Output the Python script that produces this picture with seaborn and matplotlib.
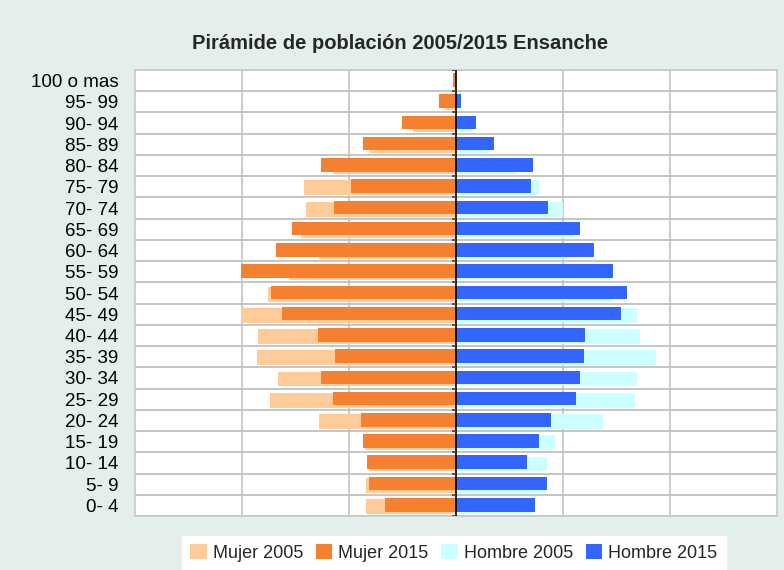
import numpy as np
import matplotlib
matplotlib.use('Agg')
import matplotlib.pyplot as plt
import seaborn as sns
from matplotlib.patches import Patch

# Grupos de edad (de arriba a abajo) y porcentajes
grupos = ['100 o mas', '95- 99', '90- 94', '85- 89', '80- 84', '75- 79', '70- 74',
          '65- 69', '60- 64', '55- 59', '50- 54', '45- 49', '40- 44', '35- 39',
          '30- 34', '25- 29', '20- 24', '15- 19', '10- 14', '5- 9', '0- 4']
mujer_2005 = [0.02, 0.10, 0.40, 0.80, 1.15, 1.42, 1.40, 1.45, 1.28, 1.55, 1.76,
              2.01, 1.85, 1.86, 1.66, 1.74, 1.28, 0.85, 0.81, 0.84, 0.84]
mujer_2015 = [0.03, 0.16, 0.50, 0.87, 1.26, 0.98, 1.14, 1.53, 1.68, 2.01, 1.73,
              1.63, 1.29, 1.13, 1.26, 1.15, 0.89, 0.87, 0.83, 0.81, 0.66]
hombre_2005 = [0.0, 0.03, 0.15, 0.30, 0.56, 0.78, 1.00, 1.10, 1.05, 1.45, 1.47,
               1.69, 1.72, 1.87, 1.69, 1.67, 1.37, 0.93, 0.85, 0.83, 0.72]
hombre_2015 = [0.0, 0.05, 0.19, 0.36, 0.72, 0.70, 0.86, 1.16, 1.29, 1.47, 1.60,
               1.54, 1.21, 1.20, 1.16, 1.12, 0.89, 0.78, 0.66, 0.85, 0.74]

colores = {'Mujer 2005': '#FFCC99', 'Mujer 2015': '#F58030',
           'Hombre 2005': '#CCFFFF', 'Hombre 2015': '#3366FF'}
fondo = '#E4EEEC'

sns.set_style('white')
plt.rcParams['font.family'] = ['Liberation Sans', 'DejaVu Sans']

fig = plt.figure(figsize=(7.84, 5.70), dpi=100, facecolor=fondo)
ax = fig.add_axes([0.1722, 0.0947, 0.8188, 0.7825])
ax.set_facecolor('white')


def dibujar(valores, color, ancho, desplazamiento):
    n = len(ax.patches)
    sns.barplot(x=valores, y=grupos, orient='h', color=color, width=ancho,
                saturation=1, ax=ax, zorder=2)
    for p in ax.patches[n:]:
        p.set_y(p.get_y() + desplazamiento)
        p.set_linewidth(0)


dibujar(-np.array(mujer_2005), colores['Mujer 2005'], 0.70, 0.05)
dibujar(np.array(hombre_2005), colores['Hombre 2005'], 0.70, 0.05)
dibujar(-np.array(mujer_2015), colores['Mujer 2015'], 0.64, -0.03)
dibujar(np.array(hombre_2015), colores['Hombre 2015'], 0.64, -0.03)

ax.set_xlim(-3, 3)
ax.set_ylim(len(grupos) - 0.5, -0.5)
ax.set_xlabel('')
ax.set_ylabel('')

# Rejilla
ax.set_xticks([-2, -1, 1, 2])
ax.set_xticklabels([])
ax.set_yticks(np.arange(-0.5, len(grupos), 1), minor=True)
ax.grid(axis='x', which='major', color='#C8C8C8', lw=1.3, zorder=0)
ax.grid(axis='y', which='minor', color='#C0C0C0', lw=1.3, zorder=0)
ax.set_axisbelow(True)
ax.tick_params(axis='both', which='both', length=0)
ax.tick_params(axis='y', labelsize=13.5, pad=12, colors='black')
for s in ax.spines.values():
    s.set_color('#C8C8C8')
    s.set_linewidth(1.2)

# Eje central
ax.axvline(0, color='black', lw=1.2, zorder=3)
ax.hlines(np.arange(-0.5, len(grupos), 1), -0.04, 0, color='#404040', lw=1.2, zorder=3)

fig.text(0.51, 0.924, 'Pirámide de población 2005/2015 Ensanche',
         ha='center', va='center', fontsize=14.5, fontweight='bold')

manejadores = [Patch(facecolor=c, edgecolor='none', label=k) for k, c in colores.items()]
leg = fig.legend(handles=manejadores, loc='lower center', bbox_to_anchor=(0.579, 0.0),
                 ncol=4, fontsize=13, frameon=True, fancybox=False,
                 handlelength=0.9, handleheight=0.9, handletextpad=0.35,
                 columnspacing=0.7, borderpad=0.45, borderaxespad=0)
leg.get_frame().set_facecolor('white')
leg.get_frame().set_edgecolor('white')
leg.get_frame().set_alpha(1)

fig.savefig('out.png', dpi=100, facecolor=fondo)
